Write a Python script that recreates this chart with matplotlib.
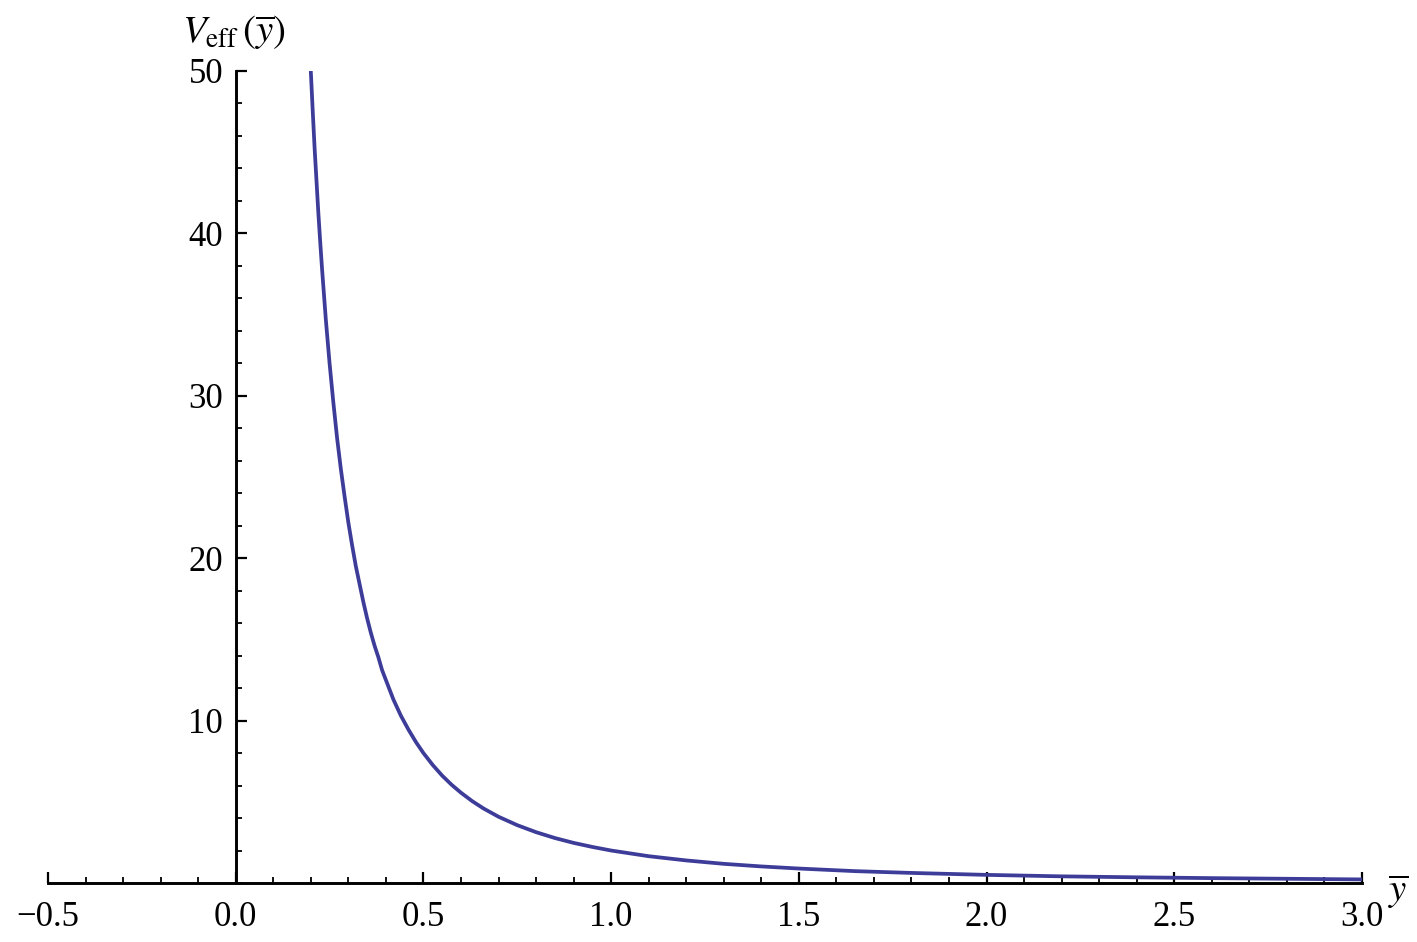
import matplotlib
matplotlib.use("Agg")
import matplotlib.pyplot as plt
from matplotlib.ticker import MultipleLocator, FixedLocator

# values
ybar = [0.200, 0.205, 0.210, 0.215, 0.220, 0.225, 0.230, 0.240, 0.250,
        0.260, 0.270, 0.280, 0.290, 0.300, 0.310, 0.320, 0.330, 0.340,
        0.350, 0.360, 0.370, 0.380, 0.390, 0.400, 0.420, 0.440, 0.460,
        0.480, 0.500, 0.525, 0.550, 0.575, 0.600, 0.630, 0.660, 0.700,
        0.750, 0.800, 0.850, 0.900, 0.950, 1.000, 1.100, 1.200, 1.300,
        1.400, 1.500, 1.650, 1.800, 2.000, 2.200, 2.400, 2.600, 2.800, 3.000]
v_eff = [50.0, 47.6, 45.3, 43.3, 41.3, 39.5, 37.8, 34.7, 32.0,
         29.6, 27.4, 25.5, 23.8, 22.2, 20.8, 19.5, 18.4, 17.3,
         16.3, 15.4, 14.6, 13.9, 13.1, 12.5, 11.3, 10.3, 9.45,
         8.68, 8.0, 7.26, 6.61, 6.05, 5.56, 5.04, 4.59, 4.08,
         3.56, 3.13, 2.77, 2.47, 2.22, 2.0, 1.65, 1.39, 1.18,
         1.02, 0.89, 0.73, 0.62, 0.50, 0.41, 0.35, 0.30, 0.26, 0.22]

x_major = [-0.5, 0.0, 0.5, 1.0, 1.5, 2.0, 2.5, 3.0]
y_major = [10, 20, 30, 40, 50]

plt.rcParams['font.family'] = ['Liberation Serif', 'DejaVu Serif']
plt.rcParams['mathtext.fontset'] = 'stix'

fig = plt.figure(figsize=(14.17, 9.42), dpi=100)
ax = fig.add_axes([48 / 1417, 59 / 942, 1314 / 1417, 812 / 942])

ax.plot(ybar, v_eff, color='#3d3d99', linewidth=2.7, solid_capstyle='butt')

ax.set_xlim(-0.5, 3.0)
ax.set_ylim(0, 50)

ax.spines['top'].set_visible(False)
ax.spines['right'].set_visible(False)
ax.spines['left'].set_position(('data', 0))
ax.spines['bottom'].set_position(('data', 0))
for s in ['left', 'bottom']:
    ax.spines[s].set_linewidth(2.1)

ax.xaxis.set_major_locator(FixedLocator(x_major))
ax.xaxis.set_minor_locator(MultipleLocator(0.1))
ax.yaxis.set_major_locator(FixedLocator(y_major))
ax.yaxis.set_minor_locator(MultipleLocator(2))
ax.set_xticklabels([f'{v:.1f}'.replace('-', '\u2212') for v in x_major])
ax.set_yticklabels([str(v) for v in y_major])

ax.tick_params(which='major', direction='in', length=8, width=1.6,
               labelsize=25)
ax.tick_params(axis='x', which='major', pad=13)
ax.tick_params(axis='y', which='major', pad=9)
ax.tick_params(which='minor', direction='in', length=4.5, width=1.3)

fig.text(182 / 1417, 1 - 33 / 942, r'$V_{\mathrm{eff}}\,(\overline{y})$',
         fontsize=28, ha='left', va='center')
fig.text(1388 / 1417, 1 - 892 / 942, r'$\overline{y}$',
         fontsize=28, ha='left', va='center')

fig.savefig('out.png', dpi=100)
